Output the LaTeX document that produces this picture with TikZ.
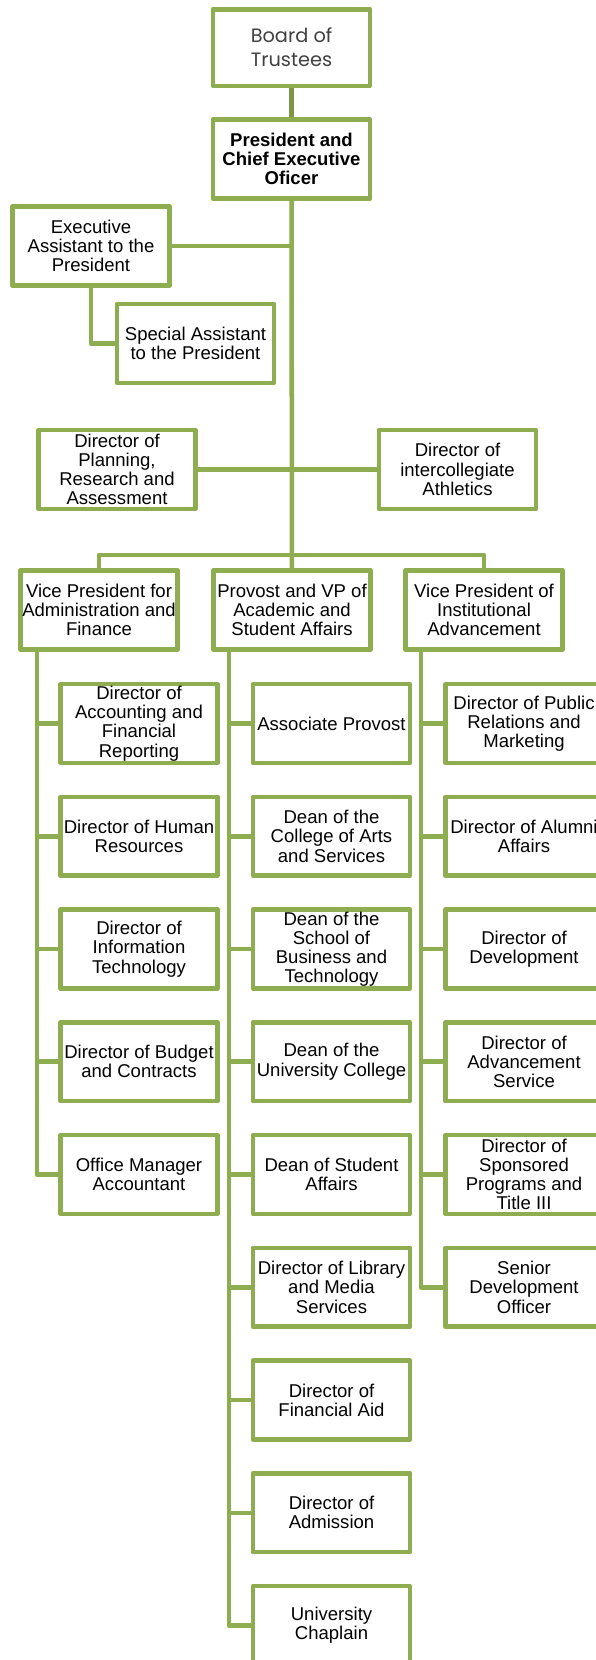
\documentclass[tikz,border=0pt]{standalone}
\usepackage{fontspec}
\setmainfont{Liberation Sans}
\newfontfamily\boardfont{Poppins}
\definecolor{orggreen}{HTML}{8EAC50}

\tikzset{
  box/.style={draw=orggreen, line width=3.4pt, line join=round, fill=white,
    minimum width=118pt, minimum height=59pt, inner sep=0pt, align=center,
    font=\fontsize{13.9}{14.4}\selectfont},
  topbox/.style={box, minimum height=57.4pt, font=\boardfont\fontsize{14.5}{18}\selectfont, text=black!75},
  conn/.style={draw=orggreen, line width=3.4pt, line join=round}
}

\begin{document}
\begin{tikzpicture}[x=0.75pt, y=-0.75pt]
            \useasboundingbox (0,0) rectangle (596,1660);
            \clip (0,0) rectangle (596,1660);

            %vertice
            \node[topbox] (board) at (291.5,47.5) {Board of\\Trustees};
            \node[box, font=\bfseries\fontsize{13.9}{14.4}\selectfont] (pres) at (291.5,159) {President and\\Chief Executive\\Oficer};

            %staff del presidente
            \node[box] (exec) at (91,246) {Executive\\Assistant to the\\President};
            \node[box] (spec) at (195.5,343.5) {Special Assistant\\to the President};
            \node[box] (plan) at (117,469.5) {Director of\\Planning,\\Research and\\Assessment};
            \node[box] (ath) at (457.5,469.5) {Director of\\intercollegiate\\Athletics};

            %vice presidenti
            \node[box] (vpa) at (99,610) {Vice President for\\Administration and\\Finance};
            \node[box] (prov) at (292,610) {Provost and VP of\\Academic and\\Student Affairs};
            \node[box] (vpi) at (484,610) {Vice President of\\Institutional\\Advancement};

            %amministrazione e finanza
            \node[box] (a1) at (139,723.5) {Director of\\Accounting and\\Financial\\Reporting};
            \node[box] (a2) at (139,836.25) {Director of Human\\Resources};
            \node[box] (a3) at (139,949) {Director of\\Information\\Technology};
            \node[box] (a4) at (139,1061.75) {Director of Budget\\and Contracts};
            \node[box] (a5) at (139,1174.5) {Office Manager\\Accountant};

            %affari accademici
            \node[box] (p1) at (331.5,723.5) {Associate Provost};
            \node[box] (p2) at (331.5,836.25) {Dean of the\\College of Arts\\and Services};
            \node[box] (p3) at (331.5,949) {Dean of the\\School of\\Business and\\Technology};
            \node[box] (p4) at (331.5,1061.75) {Dean of the\\University College};
            \node[box] (p5) at (331.5,1174.5) {Dean of Student\\Affairs};
            \node[box] (p6) at (331.5,1287.25) {Director of Library\\and Media\\Services};
            \node[box] (p7) at (331.5,1400) {Director of\\Financial Aid};
            \node[box] (p8) at (331.5,1512.75) {Director of\\Admission};
            \node[box] (p9) at (331.5,1625.5) {University\\Chaplain};

            %sviluppo istituzionale
            \node[box] (i1) at (524,723.5) {Director of Public\\Relations and\\Marketing};
            \node[box] (i2) at (524,836.25) {Director of Alumni\\Affairs};
            \node[box] (i3) at (524,949) {Director of\\Development};
            \node[box] (i4) at (524,1061.75) {Director of\\Advancement\\Service};
            \node[box] (i5) at (524,1174.5) {Director of\\Sponsored\\Programs and\\Title III};
            \node[box] (i6) at (524,1287.25) {Senior\\Development\\Officer};

            %linee principali
            \draw[conn, draw=orggreen!88!black] (board) -- (pres);
            \draw[conn] (pres) -- (prov);
            \draw[conn] (exec.east) -- (exec.east -| pres.south);
            \draw[conn] (exec.south) |- (spec.west);
            \draw[conn] (plan) -- (ath);
            \coordinate (bus) at (292,555);
            \draw[conn] (vpa.north) |- (bus) -| (vpi.north);

            %linee delle colonne
            \coordinate (ta) at (37,649);
            \coordinate (tp) at (229,649);
            \coordinate (ti) at (421,649);
            \foreach \i in {1,...,5} \draw[conn] (ta) |- (a\i.west);
            \foreach \i in {1,...,9} \draw[conn] (tp) |- (p\i.west);
            \foreach \i in {1,...,6} \draw[conn] (ti) |- (i\i.west);

        \end{tikzpicture}
\end{document}
